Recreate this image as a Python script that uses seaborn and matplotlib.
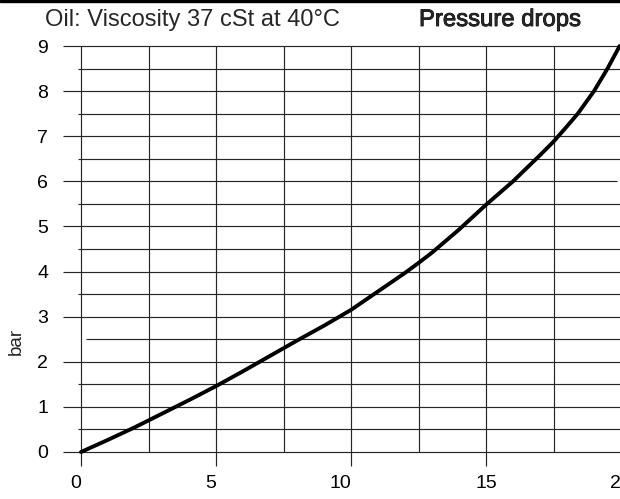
import matplotlib
matplotlib.use("Agg")
import matplotlib.pyplot as plt
import matplotlib.patheffects as pe
import seaborn as sns
import pandas as pd
import numpy as np

# flow (x) vs pressure drop in bar
flow = [0, 1, 2, 2.5, 3, 4, 5, 6, 7, 7.5, 8, 9, 10, 11, 12, 12.5, 13, 14, 15,
        16, 17, 17.5, 18, 18.4, 19, 19.5, 19.95]
bar = [0, 0.27, 0.55, 0.70, 0.85, 1.15, 1.46, 1.79, 2.13, 2.30, 2.47, 2.80, 3.15,
       3.56, 3.97, 4.19, 4.42, 4.93, 5.48, 6.00, 6.58, 6.88, 7.22, 7.50, 8.00,
       8.50, 9.00]
x_ticks = [0, 5, 10, 15, 20]
y_ticks = list(range(0, 10))

df = pd.DataFrame({"flow": flow, "bar": bar})

sns.set_style("white")
plt.rcParams["font.family"] = ["Liberation Sans", "DejaVu Sans"]

fig = plt.figure(figsize=(6.2, 4.99), dpi=100)
ax = fig.add_axes([81 / 620, 1 - 452 / 499, 540 / 620, 406 / 499])
ax.set_xlim(0, 20)
ax.set_ylim(0, 9)
for s in ax.spines.values():
    s.set_visible(False)

gc = "#262626"
# horizontal grid (half steps start just left of the axis)
for v in np.arange(0.5, 9, 1.0):
    start = 0.19 if v == 2.5 else -0.11
    ax.hlines(v, start, 20.1, color=gc, lw=0.85, clip_on=False)
for v in y_ticks:
    end = 19.85 if v == 6 else 20.1
    ax.hlines(v, -0.67, end, color=gc, lw=0.85, clip_on=False)
# vertical grid
for v in np.arange(0, 20.01, 2.5):
    lo = -0.31 if v % 5 == 0 else 0
    ax.vlines(v, lo, 9, color=gc, lw=0.85, clip_on=False)

sns.lineplot(data=df, x="flow", y="bar", ax=ax, color="black", lw=2.8,
             clip_on=False)

ax.set_xticks(x_ticks)
ax.set_yticks(y_ticks)
ax.tick_params(axis="both", length=0, labelsize=14, colors="black")
ax.tick_params(axis="y", pad=23.5)
ax.tick_params(axis="x", pad=16.5)
for lab in ax.get_xticklabels()[:3]:
    lab.set_horizontalalignment("right")
ax.set_xlabel("")
ax.set_ylabel("")

fig.text(16 / 620, 1 - 341 / 499, "bar", rotation=90, ha="center",
         va="center", fontsize=13.5)
fig.text(45 / 620, 1 - 20 / 499, "Oil: Viscosity 37 cSt at 40°C",
         ha="left", va="center", fontsize=17)
fig.text(419 / 620, 1 - 20 / 499, "Pressure drops", ha="left", va="center",
         fontsize=17.2,
         path_effects=[pe.withStroke(linewidth=0.6, foreground="black")])
fig.add_artist(plt.Rectangle((0, 0.996), 1, 0.004, color="black",
                             transform=fig.transFigure))

fig.savefig("out.png", dpi=100)
